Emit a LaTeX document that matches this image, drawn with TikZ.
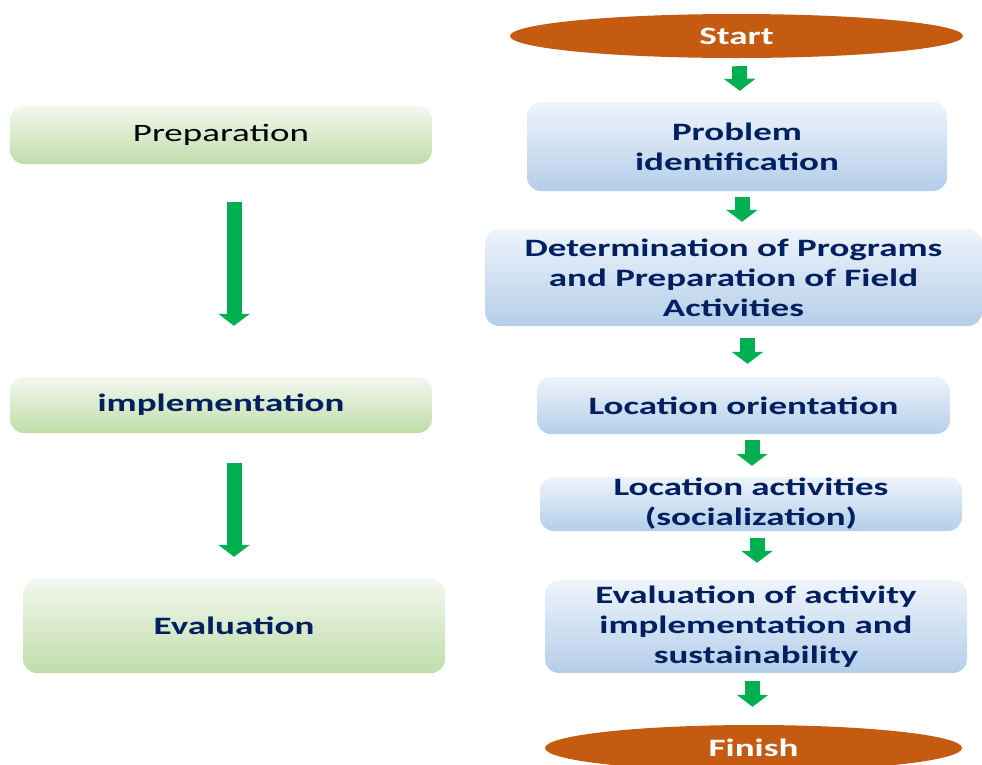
\documentclass[tikz,border=0pt]{standalone}
\usepackage{fontspec}
\setmainfont[FakeStretch=1.48]{Carlito}
\usetikzlibrary{arrows.meta,positioning,calc,shapes.geometric}

\definecolor{textnavy}{HTML}{002060}
\definecolor{termorange}{HTML}{C55A11}
\definecolor{arrowgreen}{HTML}{00B050}
\definecolor{bluetop}{HTML}{EEF4FB}
\definecolor{bluebot}{HTML}{B4CEE9}
\definecolor{greentop}{HTML}{F3F8EF}
\definecolor{greenbot}{HTML}{BFDDA9}

\tikzset{
  stepbox/.style={rounded corners=14pt, top color=bluetop, bottom color=bluebot,
    text=textnavy, font=\fontsize{25}{30}\selectfont\bfseries, align=center, inner sep=0pt},
  phasebox/.style={rounded corners=14pt, top color=greentop, bottom color=greenbot,
    text=textnavy, font=\fontsize{25}{30}\selectfont\bfseries, align=center, inner sep=0pt},
  terminal/.style={ellipse, fill=termorange, text=white,
    font=\fontsize{25}{30}\selectfont\bfseries, inner sep=0pt},
  blockarrow/.style={draw=arrowgreen, line width=15pt,
    -{Triangle[width=31pt,length=12pt]}}
}

\begin{document}
\begin{tikzpicture}[x=1pt,y=-1pt]
  \useasboundingbox (0,0) rectangle (982,764);

  % Ablauf rechts
  \node[terminal, minimum width=453pt, minimum height=44pt] (start) at (736.5,36) {Start};
  \node[stepbox, minimum width=420pt, minimum height=89pt] (prob) at (737,146.5) {Problem\\identification};
  \node[stepbox, minimum width=497pt, minimum height=97pt] (det) at (733.5,277.5)
    {Determination of Programs\\and Preparation of Field\\Activities};
  \node[stepbox, minimum width=413pt, minimum height=57pt] (orient) at (743.5,405.5) {Location orientation};
  \node[stepbox, minimum width=422pt, minimum height=54pt] (social) at (751,504)
    {Location activities\\(socialization)};
  \node[stepbox, minimum width=422pt, minimum height=93pt] (evalact) at (756,626.5)
    {Evaluation of activity\\implementation and\\sustainability};
  \node[terminal, minimum width=417pt, minimum height=46pt] (finish) at (753.5,748) {Finish};

  % Phasen links
  \node[phasebox, minimum width=422pt, minimum height=58pt, text=black,
    font=\fontsize{25}{30}\selectfont] (prep) at (221,135) {Preparation};
  \node[phasebox, minimum width=422pt, minimum height=56pt] (impl) at (221,405) {implementation};
  \node[phasebox, minimum width=422pt, minimum height=94pt] (eval) at (234,626) {Evaluation};

  % Pfeile rechts
  \draw[blockarrow, shorten <=8pt, shorten >=11pt] ([xshift=3pt]start.south) -- ([xshift=3pt]prob.north);
  \draw[blockarrow, shorten <=6pt, shorten >=7pt] ([xshift=5pt]prob.south) -- ([xshift=5pt]prob.south |- det.north);
  \draw[blockarrow, shorten <=12pt, shorten >=13pt] ([xshift=4pt]orient.north |- det.south) -- ([xshift=4pt]orient.north);
  \draw[blockarrow, shorten <=6pt, shorten >=11pt] ([xshift=1pt]social.north |- orient.south) -- ([xshift=1pt]social.north);
  \draw[blockarrow, shorten <=7pt, shorten >=17pt] ([xshift=1pt]evalact.north |- social.south) -- ([xshift=1pt]evalact.north);
  \draw[blockarrow, shorten <=8pt, shorten >=18pt] ([xshift=-1pt]finish.north |- evalact.south) -- ([xshift=-1pt]finish.north);

  % Pfeile links
  \draw[blockarrow, shorten <=38pt, shorten >=51pt] ([xshift=13pt]prep.south) -- ([xshift=13pt]impl.north);
  \draw[blockarrow, shorten <=30pt, shorten >=22pt] ([xshift=13pt]impl.south) -- ([xshift=13pt]impl.south |- eval.north);
\end{tikzpicture}
\end{document}
